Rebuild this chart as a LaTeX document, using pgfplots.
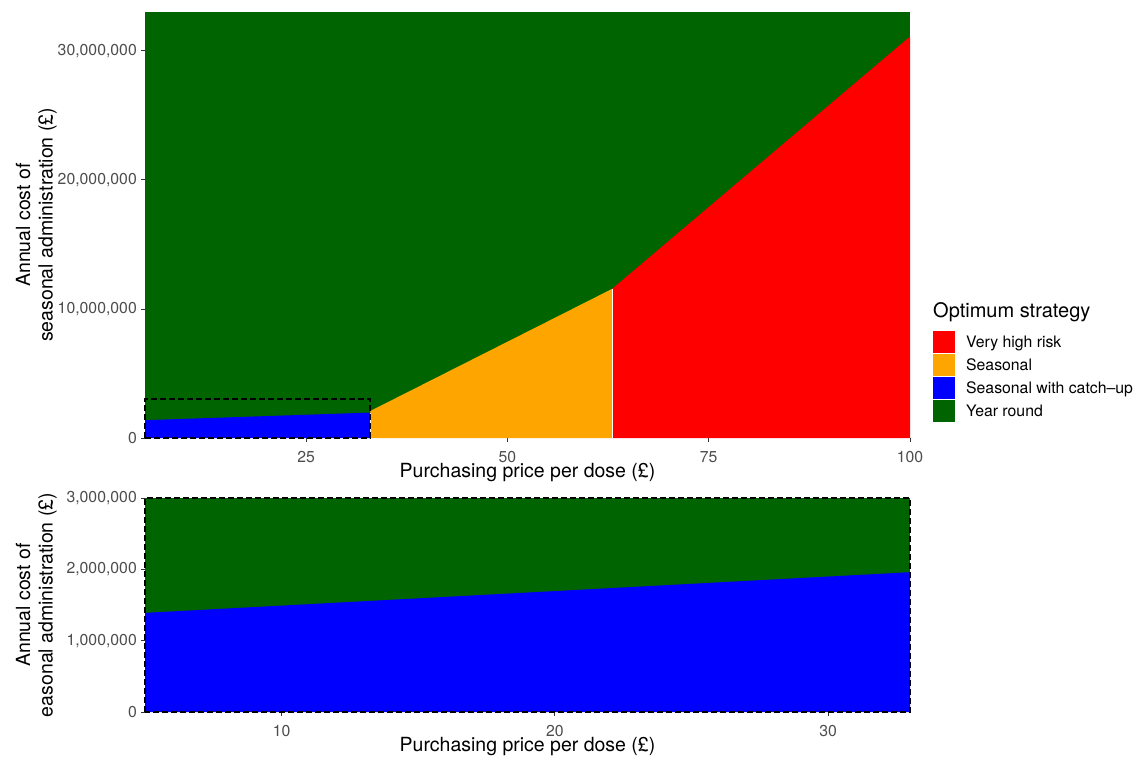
\documentclass[border=0pt]{standalone}
\usepackage{fontspec}
\setmainfont{TeX Gyre Heros}
\usepackage{pgfplots}
\pgfplotsset{compat=1.18}

\definecolor{yrgreen}{HTML}{006400}
\definecolor{vhred}{HTML}{FF0000}
\definecolor{seasorange}{HTML}{FFA500}
\definecolor{catchblue}{HTML}{0000FF}
\definecolor{ticktext}{HTML}{4D4D4D}
\definecolor{tickline}{HTML}{333333}

\pgfplotsset{
  ggbase/.style={
    scale only axis, width=765pt,
    clip=false,
    axis line style={draw=none},
    tick align=outside, xtick pos=bottom, ytick pos=left,
    major tick length=4pt,
    every tick/.style={tickline, line width=0.8pt},
    tick label style={font=\fontsize{15.8}{18}\selectfont, text=ticktext},
    /pgf/number format/assume math mode=true,
    scaled y ticks=false,
    yticklabel={\pgfmathprintnumber[fixed,precision=0,1000 sep={,}]{\tick}},
    xticklabel style={anchor=base, inner sep=0pt, yshift=-20pt},
    xticklabel style={at={(axis cs:\tick,0)}},
    yticklabel style={anchor=east, inner sep=0pt, xshift=-4pt},
    label style={font=\fontsize{19.5}{22.5}\selectfont},
    xlabel style={at={(axis description cs:0.5,0)}, anchor=base, inner sep=0pt, yshift=-39.5pt},
    ylabel style={at={(axis description cs:-0.115,0.5)}, anchor=south, rotate=0, align=center, inner sep=0pt},
    xlabel={Purchasing price per dose (£)},
  },
  regionfill/.style={draw=none, fill=#1, forget plot},
  zoombox/.style={black, line width=2pt, dash pattern=on 6pt off 3pt, forget plot},
  sep/.style={white, line width=0.8pt, forget plot},
}

\begin{document}
\begin{tikzpicture}
\useasboundingbox (0,0) rectangle (1137pt,756pt);

% Full price range
\begin{axis}[ggbase,
  at={(145pt,318pt)}, anchor=south west, height=426pt,
  xmin=5, xmax=100, ymin=0, ymax=33e6,
  xtick={25,50,75,100}, ytick={0,1e7,2e7,3e7},
  ylabel={Annual cost of\\seasonal administration (£)},
  legend style={at={(axis description cs:1.030,0.251)}, anchor=north west,
    draw=none, fill=none, inner sep=0pt, row sep=1pt,
    font=\fontsize{15.8}{18}\selectfont,
    nodes={inner sep=0pt},
    cells={anchor=west},
    /tikz/every odd column/.style={column sep=11pt}},
  legend image code/.code={\fill[#1, draw=none] (0pt,-11pt) rectangle (22pt,11pt);},
]
\addplot[regionfill=yrgreen] coordinates {(5,33e6) (100,33e6)} \closedcycle;
\addplot[regionfill=catchblue] coordinates {(5,1.38e6) (33,1.97e6)} \closedcycle;
\addplot[regionfill=seasorange] coordinates {(33,2.1e6) (63,11.55e6)} \closedcycle;
\addplot[regionfill=vhred] coordinates {(63,11.55e6) (100,31.1e6)} \closedcycle;
\addplot[sep] coordinates {(33,0) (33,1.97e6)};
\addplot[sep] coordinates {(63,0) (63,11.55e6)};
\addplot[zoombox] coordinates {(5,0) (5,3e6) (33,3e6) (33,0) (5,0)};

\addlegendimage{fill=vhred, draw=none}
\addlegendentry{Very high risk}
\addlegendimage{fill=seasorange, draw=none}
\addlegendentry{Seasonal}
\addlegendimage{fill=catchblue, draw=none}
\addlegendentry{Seasonal with catch\textendash up}
\addlegendimage{fill=yrgreen, draw=none}
\addlegendentry{Year round}
\end{axis}

\node[anchor=base west, inner sep=0pt, font=\fontsize{20}{22}\selectfont] at (933pt,438pt) {Optimum strategy};

% Close-up of the low price range
\begin{axis}[ggbase,
  at={(145pt,44pt)}, anchor=south west, height=214pt,
  xmin=5, xmax=33, ymin=0, ymax=3e6,
  xtick={10,20,30}, ytick={0,1e6,2e6,3e6},
  ylabel={Annual cost of\\easonal administration (£)},
]
\addplot[regionfill=yrgreen] coordinates {(5,3e6) (33,3e6)} \closedcycle;
\addplot[regionfill=catchblue] coordinates {(5,1.39e6) (33,1.96e6)} \closedcycle;
\addplot[zoombox] coordinates {(5,0) (5,3e6) (33,3e6) (33,0) (5,0)};
\end{axis}
\end{tikzpicture}
\end{document}
